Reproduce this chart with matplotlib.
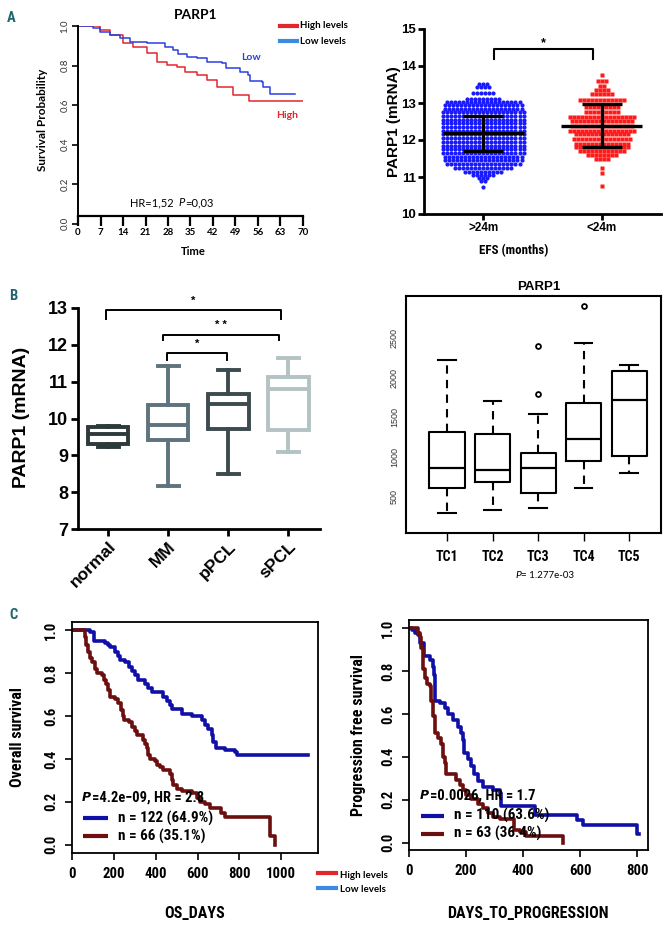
import os
import numpy as np
import matplotlib
matplotlib.use('Agg')
import matplotlib.pyplot as plt
from matplotlib import font_manager
from matplotlib.font_manager import FontProperties
from matplotlib.textpath import TextPath
from matplotlib.lines import Line2D

fams = {f.name for f in font_manager.fontManager.ttflist}
ARIAL = 'Liberation Sans'
CALI = 'Lato' if 'Lato' in fams else 'DejaVu Sans'


def find_condensed():
    # look for a narrow / condensed bold face, best match first
    prefs = ['liberation sans narrow', 'roboto condensed', 'open sans condensed', 'dejavu sans']
    found = {}
    for f in font_manager.fontManager.ttflist:
        n = f.name.lower()
        fn = os.path.basename(f.fname).lower()
        cond = ('narrow' in n or 'condensed' in n or 'narrow' in fn or 'condensed' in fn
                or str(f.stretch) in ('condensed', 'semi-condensed', 'extra-condensed'))
        if cond and f.weight in (600, 700, 'bold', 'semibold') and f.style == 'normal':
            for p in prefs:
                if n.startswith(p):
                    found.setdefault(p, f.fname)
            found.setdefault('any', f.fname)
    for p in prefs + ['any']:
        if p in found:
            return found[p]
    return None


COND_FILE = find_condensed()


def cond(size=10):
    if COND_FILE:
        return FontProperties(fname=COND_FILE, size=size)
    return FontProperties(family='DejaVu Sans', weight='bold', size=size)


def fit(sample, px):
    # font size (pt) that makes `sample` about px pixels wide in the condensed face
    w = TextPath((0, 0), sample, prop=cond(10)).get_extents().width * 100 / 72
    return 10 * px / w


# ---------------- data ----------------
# A left: Kaplan-Meier, PARP1 high / low
a_high_t = [0, 6.8, 10, 14.1, 17.2, 21.4, 24.5, 27.6, 30.7, 33.3, 36.9, 40, 43.1, 48.3, 53.3, 70]
a_high_s = [1.0, 0.98, 0.954, 0.912, 0.895, 0.862, 0.819, 0.803, 0.794, 0.769, 0.752, 0.727, 0.69, 0.651, 0.622, 0.622]
a_low_t = [0, 4.8, 6.8, 10, 13.1, 16.2, 21.4, 24.5, 27.1, 29.7, 31.2, 33.8, 36.9, 40, 44.7, 46.2,
           50.4, 53, 53.5, 57.1, 57.7, 59.2, 59.7, 67.5]
a_low_s = [1.0, 0.988, 0.971, 0.954, 0.938, 0.921, 0.916, 0.912, 0.895, 0.878, 0.858, 0.845, 0.836,
           0.819, 0.811, 0.786, 0.769, 0.752, 0.723, 0.718, 0.693, 0.69, 0.654, 0.654]
a_xticks = [0, 7, 14, 21, 28, 35, 42, 49, 56, 63, 70]

# A right: PARP1 mRNA by EFS, rows of the dot plot (value, number of dots)
efs_groups = ['>24m', '<24m']
efs_long_vals = [10.72, 10.88, 10.98, 11.05, 11.14, 11.25, 11.35, 11.45, 11.55, 11.65, 11.75, 11.85,
                 11.95, 12.05, 12.15, 12.25, 12.35, 12.45, 12.55, 12.65, 12.75, 12.85, 12.95, 13.03,
                 13.12, 13.26, 13.42, 13.5]
efs_long_n = [1, 2, 3, 6, 10, 15, 19, 20, 20, 21, 21, 21, 21, 21, 21, 21, 21, 21, 21, 21, 21, 20, 20,
              19, 9, 6, 4, 3]
efs_short_vals = [10.75, 11.1, 11.24, 11.48, 11.6, 11.7, 11.8, 11.9, 12.03, 12.16, 12.25, 12.37, 12.5,
                  12.63, 12.77, 12.9, 13.08, 13.25, 13.35, 13.45, 13.6, 13.76]
efs_short_n = [1, 1, 1, 4, 8, 12, 14, 14, 15, 14, 17, 16, 16, 17, 9, 9, 12, 6, 4, 2, 3, 1]
efs_mean = [12.18, 12.38]
efs_sd_lo = [11.70, 11.80]
efs_sd_hi = [12.65, 12.96]

# B left: PARP1 mRNA by disease group
b_groups = ['normal', 'MM', 'pPCL', 'sPCL']
b_whislo = [9.22, 8.16, 8.49, 9.08]
b_q1 = [9.30, 9.41, 9.72, 9.70]
b_med = [9.58, 9.81, 10.39, 10.80]
b_q3 = [9.76, 10.36, 10.67, 11.14]
b_whishi = [9.79, 11.42, 11.33, 11.64]

# B right: PARP1 by TC class
tc_groups = ['TC1', 'TC2', 'TC3', 'TC4', 'TC5']
tc_whislo = [290, 324, 353, 605, 794]
tc_q1 = [605, 689, 550, 954, 1013]
tc_med = [866, 836, 857, 1227, 1718]
tc_q3 = [1319, 1294, 1046, 1676, 2088]
tc_whishi = [2223, 1706, 1542, 2433, 2160]
tc_fliers = [[], [], [2399, 1790], [2903], []]

# C left: overall survival
os_low_t = [0, 87, 103, 159, 170, 183, 206, 218, 230, 254, 270, 286, 300, 317, 350, 365, 381, 437, 452,
            468, 476, 524, 571, 619, 635, 651, 667, 675, 690, 730, 778, 786, 1127]
os_low_s = [1.0, 0.99, 0.95, 0.94, 0.93, 0.92, 0.90, 0.88, 0.86, 0.85, 0.83, 0.81, 0.79, 0.77, 0.75,
            0.73, 0.71, 0.69, 0.67, 0.65, 0.635, 0.61, 0.60, 0.58, 0.56, 0.54, 0.51, 0.48, 0.45, 0.44,
            0.43, 0.42, 0.42]
os_high_t = [0, 63, 68, 75, 87, 95, 108, 119, 143, 151, 163, 170, 183, 206, 222, 233, 243, 249, 270,
             286, 302, 310, 341, 349, 357, 365, 373, 397, 405, 421, 437, 468, 476, 484, 500, 524, 571,
             595, 611, 635, 659, 714, 730, 944, 968]
os_high_s = [1.0, 0.97, 0.93, 0.90, 0.87, 0.85, 0.82, 0.80, 0.79, 0.77, 0.75, 0.72, 0.69, 0.68, 0.66,
             0.63, 0.60, 0.58, 0.57, 0.55, 0.53, 0.51, 0.49, 0.47, 0.45, 0.42, 0.40, 0.39, 0.37, 0.36,
             0.35, 0.33, 0.30, 0.28, 0.26, 0.25, 0.24, 0.22, 0.20, 0.19, 0.17, 0.15, 0.13, 0.04, 0.0]
os_labels = ['n = 122 (64.9%)', 'n = 66 (35.1%)']
os_stat = '=4.2e\u221209, HR = 2.8'

# C right: progression free survival
pfs_low_t = [0, 10, 20, 30, 40, 51, 72, 84, 87, 92, 107, 125, 136, 154, 171, 183, 190, 194, 206, 218,
             229, 241, 258, 293, 317, 322, 441, 590, 610, 800, 805]
pfs_low_s = [1.0, 0.99, 0.98, 0.97, 0.93, 0.87, 0.85, 0.82, 0.78, 0.66, 0.65, 0.63, 0.60, 0.57, 0.54,
             0.51, 0.48, 0.42, 0.39, 0.355, 0.32, 0.285, 0.26, 0.245, 0.23, 0.17, 0.13, 0.105, 0.08,
             0.04, 0.04]
pfs_high_t = [0, 31, 37, 43, 49, 55, 63, 72, 78, 84, 90, 101, 113, 119, 125, 130, 165, 177, 189, 200,
              218, 241, 258, 276, 293, 317, 369, 387, 410, 538]
pfs_high_s = [1.0, 0.98, 0.96, 0.91, 0.81, 0.77, 0.74, 0.73, 0.66, 0.59, 0.51, 0.49, 0.46, 0.40, 0.37,
              0.32, 0.29, 0.27, 0.245, 0.22, 0.205, 0.18, 0.16, 0.137, 0.12, 0.11, 0.06, 0.05, 0.03, 0.0]
pfs_labels = ['n = 110 (63.6%)', 'n = 63 (36.4%)']
pfs_stat = '=0.0026, HR = 1.7'

# ---------------- figure ----------------
W, H = 672, 927
fig = plt.figure(figsize=(W / 100, H / 100), dpi=100)

RED = '#e3262b'
BLUE = '#2b3fe0'
LEG_BLUE = '#3d8be0'
NAVY = '#1010a8'
DARKRED = '#6b0f0f'
TEAL = '#1f6470'


def box(x0, y0, x1, y1):
    return [x0 / W, 1 - y1 / H, (x1 - x0) / W, (y1 - y0) / H]


def ftext(x, y, s, **kw):
    kw.setdefault('ha', 'center')
    kw.setdefault('va', 'center')
    return fig.text(x / W, 1 - y / H, s, **kw)


def fline(x0, x1, y, color, lw=3):
    fig.add_artist(Line2D([x0 / W, x1 / W], [1 - y / H, 1 - y / H], color=color, lw=lw,
                          transform=fig.transFigure))


def tick_font(ax, axis, family, size=10, weight='normal', color='black', rot=0):
    labels = ax.get_xticklabels() if axis == 'x' else ax.get_yticklabels()
    for lb in labels:
        if isinstance(family, FontProperties):
            lb.set_fontproperties(family)
        else:
            lb.set_fontfamily(family)
            lb.set_fontsize(size)
            lb.set_fontweight(weight)
        lb.set_color(color)
        if rot:
            lb.set_rotation(rot)
            lb.set_va('center')


# ---- A left: KM
ax = fig.add_axes(box(78, 26, 303, 223.5))
ax.step(a_high_t, a_high_s, where='post', color=RED, lw=1.1)
ax.step(a_low_t, a_low_s, where='post', color=BLUE, lw=1.1)
ax.set_xlim(0, 70)
ax.set_ylim(0, 1.0)
for s in ['top', 'right']:
    ax.spines[s].set_visible(False)
ax.spines['bottom'].set_position(('axes', 0.04))
ax.spines['bottom'].set_linewidth(1.6)
ax.spines['left'].set_linewidth(1.4)
ax.set_xticks(a_xticks)
ax.set_yticks([0, 0.2, 0.4, 0.6, 0.8, 1.0])
ax.set_yticklabels(['0.0', '0.2', '0.4', '0.6', '0.8', '1.0'])
ax.tick_params(axis='x', direction='out', length=7, width=1.6, pad=2)
ax.tick_params(axis='y', direction='out', length=4, width=1.2, pad=2)
tick_font(ax, 'x', CALI, 7, 'bold')
tick_font(ax, 'y', CALI, 7, 'normal', '#333333', rot=90)
ax.patch.set_alpha(0)
ftext(196, 15, 'PARP1', family=CALI, weight='bold', fontsize=10)
ftext(42, 120, 'Survival Probability', family=CALI, weight='bold', fontsize=8.5, rotation=90)
ftext(193, 251, 'Time', family=CALI, weight='bold', fontsize=8)
ftext(251, 57, 'Low', family=CALI, weight='bold', fontsize=7.5, color=BLUE)
ftext(287, 116, 'High', family=CALI, weight='bold', fontsize=7.5, color=RED)
ftext(130, 203, 'HR=1,52', family=CALI, fontsize=8, ha='left')
ftext(178, 203, 'P', family=CALI, fontsize=8, style='italic', ha='left')
ftext(185, 203, '=0,03', family=CALI, fontsize=8, ha='left')
fline(280, 297, 26, RED)
fline(280, 297, 41, LEG_BLUE)
ftext(300, 26, 'High levels', family=CALI, weight='bold', fontsize=7, ha='left')
ftext(300, 41, 'Low levels', family=CALI, weight='bold', fontsize=7, ha='left')
ftext(11, 18, 'A', fontproperties=cond(10.5), color=TEAL)

# ---- A right: dot plot
ax = fig.add_axes(box(424, 29, 661, 214))
dx = 0.034
for i, (vals, ns, col, mk, ms) in enumerate([(efs_long_vals, efs_long_n, '#1a1aff', 'o', 3.0),
                                             (efs_short_vals, efs_short_n, '#ff1a1a', 's', 2.6)]):
    xs, ys = [], []
    for v, n in zip(vals, ns):
        xs.extend(i + (np.arange(n) - (n - 1) / 2) * dx)
        ys.extend([v] * n)
    ax.plot(xs, ys, ls='none', marker=mk, ms=ms, color=col, mec='none')
    ax.hlines(efs_mean[i], i - 0.34, i + 0.34, color='black', lw=2.4, zorder=5)
    ax.hlines([efs_sd_lo[i], efs_sd_hi[i]], i - 0.17, i + 0.17, color='black', lw=2.4, zorder=5)
    ax.vlines(i, efs_sd_lo[i], efs_sd_hi[i], color='black', lw=2.4, zorder=5)
ax.plot([0.09, 0.09, 0.93, 0.93], [14.18, 14.46, 14.46, 14.18], color='black', lw=1.5)
ax.text(0.51, 14.62, '*', ha='center', va='center', fontsize=9, weight='bold', family=ARIAL)
ax.set_xlim(-0.5, 1.5)
ax.set_ylim(10, 15)
ax.set_xticks([0, 1])
ax.set_xticklabels(efs_groups)
ax.set_yticks([10, 11, 12, 13, 14, 15])
for s in ['top', 'right']:
    ax.spines[s].set_visible(False)
for s in ['left', 'bottom']:
    ax.spines[s].set_linewidth(2)
ax.tick_params(axis='both', direction='out', length=4, width=2, pad=2)
tick_font(ax, 'x', ARIAL, 8.5, 'bold')
tick_font(ax, 'y', ARIAL, 9.5, 'bold')
ftext(394, 122, 'PARP1 (mRNA)', family=ARIAL, weight='bold', fontsize=11, rotation=90)
ftext(514, 251, 'EFS (months)', fontproperties=cond(fit('EFS (months)', 68)))

# ---- B left: box plot by disease group
ax = fig.add_axes(box(78, 308, 320, 529))
b_colors = ['#2d3a3c', '#5f737c', '#3d4b4e', '#b3c2c2']
stats = [dict(whislo=b_whislo[i], q1=b_q1[i], med=b_med[i], q3=b_q3[i], whishi=b_whishi[i],
              fliers=[]) for i in range(len(b_groups))]
bp = ax.bxp(stats, positions=range(len(b_groups)), widths=0.68, capwidths=0.35,
            showfliers=False, patch_artist=True)
for i, c in enumerate(b_colors):
    bp['boxes'][i].set(facecolor='white', edgecolor=c, lw=2.8)
    bp['medians'][i].set(color=c, lw=2.8)
    for k in (2 * i, 2 * i + 1):
        bp['whiskers'][k].set(color=c, lw=2.8)
        bp['caps'][k].set(color=c, lw=2.8)
brackets = [(-0.03, 2.88, 12.95, 12.70, '*'), (0.92, 2.85, 12.27, 12.12, '* *'),
            (0.98, 1.98, 11.78, 11.60, '*')]
for x0, x1, ytop, ybot, lab in brackets:
    ax.plot([x0, x0, x1, x1], [ybot, ytop, ytop, ybot], color='black', lw=1.4, clip_on=False)
    ax.text((x0 + x1) / 2, ytop + 0.12, lab, ha='center', va='bottom', fontsize=8,
            weight='bold', family=ARIAL, clip_on=False)
ax.set_xlim(-0.5, 3.53)
ax.set_ylim(7, 13)
ax.set_xticks(range(len(b_groups)))
ax.set_xticklabels(b_groups)
ax.set_yticks(range(7, 14))
for s in ['top', 'right']:
    ax.spines[s].set_visible(False)
for s in ['left', 'bottom']:
    ax.spines[s].set_linewidth(2)
ax.tick_params(axis='both', direction='out', length=5, width=2, pad=2)
tick_font(ax, 'y', ARIAL, 13, 'bold')
for lb in ax.get_xticklabels():
    lb.set(family=ARIAL, fontsize=12.5, weight='bold', rotation=45, ha='right',
           rotation_mode='anchor')
ftext(22, 417, 'PARP1 (mRNA)', family=ARIAL, weight='bold', fontsize=14, rotation=90)
ftext(13, 296, 'B', fontproperties=cond(10.5), color=TEAL)

# ---- B right: R style box plot
ax = fig.add_axes(box(406, 296, 661, 533))
stats = [dict(whislo=tc_whislo[i], q1=tc_q1[i], med=tc_med[i], q3=tc_q3[i], whishi=tc_whishi[i],
              fliers=tc_fliers[i]) for i in range(len(tc_groups))]
bp = ax.bxp(stats, positions=range(1, 6), widths=0.77, capwidths=0.38,
            boxprops=dict(lw=1.5, color='black'),
            medianprops=dict(lw=1.6, color='black'),
            whiskerprops=dict(lw=1.5, color='black', ls=(0, (4, 3))),
            capprops=dict(lw=1.5, color='black'),
            flierprops=dict(marker='o', ms=3.5, mfc='white', mec='black', mew=1.3))
ax.set_xlim(0.1, 5.7)
ax.set_ylim(40, 3030)
ax.set_xticks(range(1, 6))
ax.set_xticklabels(tc_groups)
ax.set_yticks([500, 1000, 1500, 2000, 2500])
for s in ax.spines.values():
    s.set_linewidth(1.5)
ax.tick_params(axis='x', direction='out', length=6, width=1, pad=6)
ax.tick_params(axis='y', length=0, pad=5)
tick_font(ax, 'x', cond(fit('TC1', 20)))
tick_font(ax, 'y', ARIAL, 6.5, 'normal', '#333333', rot=90)
ftext(539, 287, 'PARP1', family=ARIAL, weight='bold', fontsize=9.5)
ftext(515, 575, 'P', family=CALI, style='italic', fontsize=7.5, ha='left')
ftext(521, 575, '= 1.277e-03', family=CALI, fontsize=7, ha='left')

# ---- C: KM panels
C_TICK = cond(fit('1000', 28))
C_LEG = cond(fit('n = 122 (64.9%)', 94))
C_STAT = cond(fit('=4.2e\u221209, HR = 2.8', 110))
C_LAB = cond(fit('DAYS_TO_PROGRESSION', 160))


def km_axes(rect, lo_t, lo_s, hi_t, hi_s, xlim, ylim, xticks, labels, stat, leg_x, leg_y, text_x, p_y):
    ax = fig.add_axes(box(*rect))
    ax.step(lo_t, lo_s, where='post', color=NAVY, lw=2.6)
    ax.step(hi_t, hi_s, where='post', color=DARKRED, lw=2.6)
    ax.set_xlim(*xlim)
    ax.set_ylim(*ylim)
    ax.set_xticks(xticks)
    ax.set_yticks([0, 0.2, 0.4, 0.6, 0.8, 1.0])
    ax.set_yticklabels(['0.0', '0.2', '0.4', '0.6', '0.8', '1.0'])
    for s in ax.spines.values():
        s.set_linewidth(1.3)
    ax.tick_params(axis='both', direction='out', length=5, width=1.2, pad=5)
    tick_font(ax, 'x', C_TICK)
    tick_font(ax, 'y', C_TICK, rot=90)
    # legend drawn in axes fraction
    for col, lab, y in zip([NAVY, DARKRED], labels, leg_y):
        ax.plot(leg_x, [y, y], color=col, lw=3, transform=ax.transAxes, solid_capstyle='butt')
        ax.text(text_x, y, lab, transform=ax.transAxes, fontproperties=C_LEG, ha='left', va='center')
    ax.text(leg_x[0] - 0.005, p_y, 'P', transform=ax.transAxes, ha='left', va='center',
            family='DejaVu Sans', style='italic', weight='bold', fontsize=C_STAT.get_size() * 0.85)
    ax.annotate(stat, (leg_x[0] - 0.005, p_y), xycoords='axes fraction', xytext=(7.2, 0),
                textcoords='offset points', ha='left', va='center', fontproperties=C_STAT)
    return ax


km_axes((72, 622, 318, 853), os_low_t, os_low_s, os_high_t, os_high_s, (0, 1175), (-0.039, 1.039),
        [0, 200, 400, 600, 800, 1000], os_labels, os_stat, [0.045, 0.146], [0.151, 0.073], 0.187, 0.24)
ftext(18, 737, 'Overall survival', fontproperties=C_LAB, rotation=90)
ftext(195, 913, 'OS_DAYS', fontproperties=C_LAB)
ftext(13, 615, 'C', fontproperties=cond(10.5), color=TEAL)

km_axes((409, 620, 648, 850), pfs_low_t, pfs_low_s, pfs_high_t, pfs_high_s, (0, 837), (-0.035, 1.039),
        [0, 200, 400, 600, 800], pfs_labels, pfs_stat, [0.05, 0.146], [0.148, 0.07], 0.19, 0.237)
ftext(359, 735, 'Progression free survival', fontproperties=C_LAB, rotation=90)
ftext(528, 913, 'DAYS_TO_PROGRESSION', fontproperties=C_LAB)

# shared legend between C panels
fline(318, 336, 873, RED)
fline(318, 336, 888, LEG_BLUE)
ftext(340, 875, 'High levels', family=CALI, weight='bold', fontsize=7, ha='left')
ftext(340, 890, 'Low levels', family=CALI, weight='bold', fontsize=7, ha='left')

fig.savefig('out.png', dpi=100)
